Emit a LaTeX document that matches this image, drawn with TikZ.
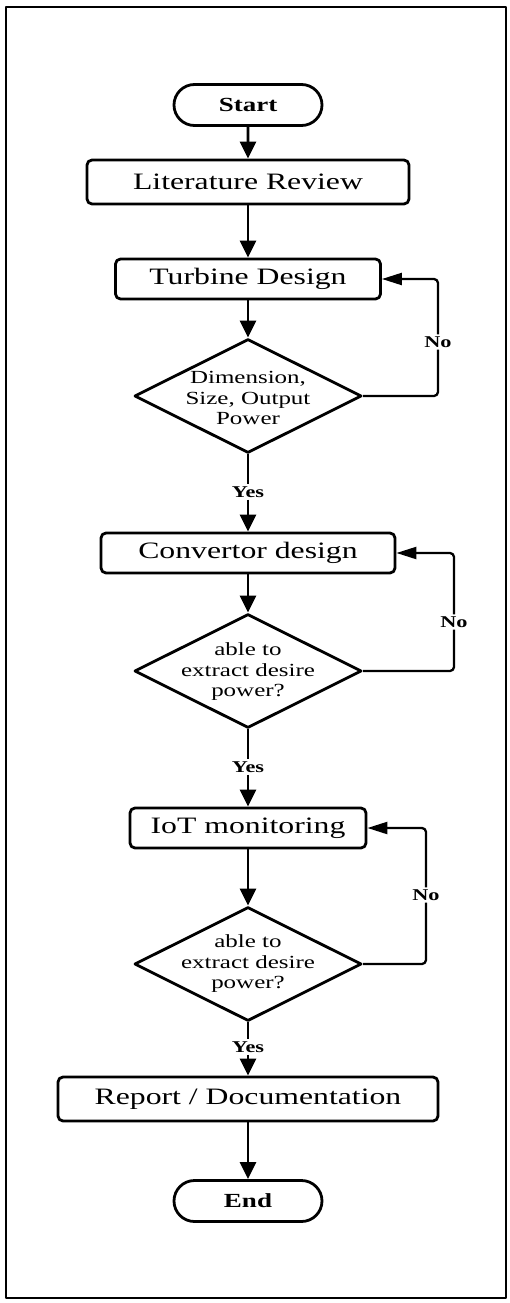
\documentclass[tikz,border=0pt]{standalone}
\usepackage{fontspec}
\setmainfont[FakeStretch=1.35]{Liberation Serif}
\usetikzlibrary{arrows.meta,shapes.geometric,shapes.misc}

\begin{document}
\begin{tikzpicture}[x=1pt,y=-1pt,
  line join=round,
  terminal/.style={draw, rounded rectangle, line width=2.8pt, minimum width=148pt,
    minimum height=41pt, inner sep=0pt, font=\fontsize{20}{22}\selectfont\bfseries},
  process/.style={draw, rectangle, rounded corners=5pt, line width=2.8pt, inner sep=0pt,
    font=\fontsize{23.5}{26}\selectfont},
  decision/.style={draw, diamond, line width=2.8pt, minimum width=227pt,
    minimum height=114pt, inner sep=0pt},
  dtext/.style={align=center, font=\fontsize{18.5}{20.5}\selectfont, inner sep=0pt},
  flag/.style={font=\fontsize{16.5}{18}\selectfont\bfseries, inner sep=2pt},
  fwd/.style={line width=2.8pt, -{Triangle[width=16pt,length=17pt]}},
  link/.style={line width=2.8pt},
  backlink/.style={line width=2.3pt, rounded corners=4pt},
  backflow/.style={line width=2.3pt, rounded corners=4pt, -{Triangle[width=12pt,length=20pt]}},
]
\useasboundingbox (0,0) rectangle (509,1303);
\draw[line width=1.6pt] (6,7) rectangle (506,1298);

% main column
\node[terminal] (start) at (248,105) {Start};
\node[process, minimum width=322pt, minimum height=44pt] (lit) at (248,182) {Literature Review};
\node[process, minimum width=265pt, minimum height=40pt] (tur) at (248,279) {Turbine Design};
\node[decision] (d1) at (248,396) {};
\node[dtext] (d1t) at (248,398) {Dimension,\\Size, Output\\Power};
\node[flag] (y1) at (248,492) {Yes};
\node[process, minimum width=294pt, minimum height=40pt] (conv) at (248,553) {Convertor design};
\node[decision] (d2) at (248,671) {};
\node[dtext] (d2t) at (248,672) {able to\\extract desire\\power?};
\node[flag] (y2) at (248,767) {Yes};
\node[process, minimum width=236pt, minimum height=40pt] (iot) at (248,828) {IoT monitoring};
\node[decision] (d3) at (248,964) {};
\node[dtext] (d3t) at (248,964) {able to\\extract desire\\power?};
\node[flag] (y3) at (248,1047) {Yes};
\node[process, minimum width=380pt, minimum height=44pt] (rep) at (248,1099) {Report / Documentation};
\node[terminal] (end) at (248,1201) {End};

% feedback labels
\node[flag] (n1) at (438,342) {No};
\node[flag] (n2) at (454,622) {No};
\node[flag] (n3) at (426,895) {No};

% forward flow
\draw[fwd] (start) -- (lit);
\draw[fwd] (lit) -- (tur);
\draw[fwd] (tur) -- (d1);
\draw[link] (d1) -- (y1);
\draw[fwd] (y1) -- (conv);
\draw[fwd] (conv) -- (d2);
\draw[link] (d2) -- (y2);
\draw[fwd] (y2) -- (iot);
\draw[fwd] (iot) -- (d3);
\draw[link] (d3) -- (y3);
\draw[fwd] (y3) -- (rep);
\draw[fwd] (rep) -- (end);

% feedback loops
\draw[backlink] (d1.east) -| (n1.south);
\draw[backflow] (n1.north) |- (tur.east);
\draw[backlink] (d2.east) -| (n2.south);
\draw[backflow] (n2.north) |- (conv.east);
\draw[backlink] (d3.east) -| (n3.south);
\draw[backflow] (n3.north) |- (iot.east);
\end{tikzpicture}
\end{document}
